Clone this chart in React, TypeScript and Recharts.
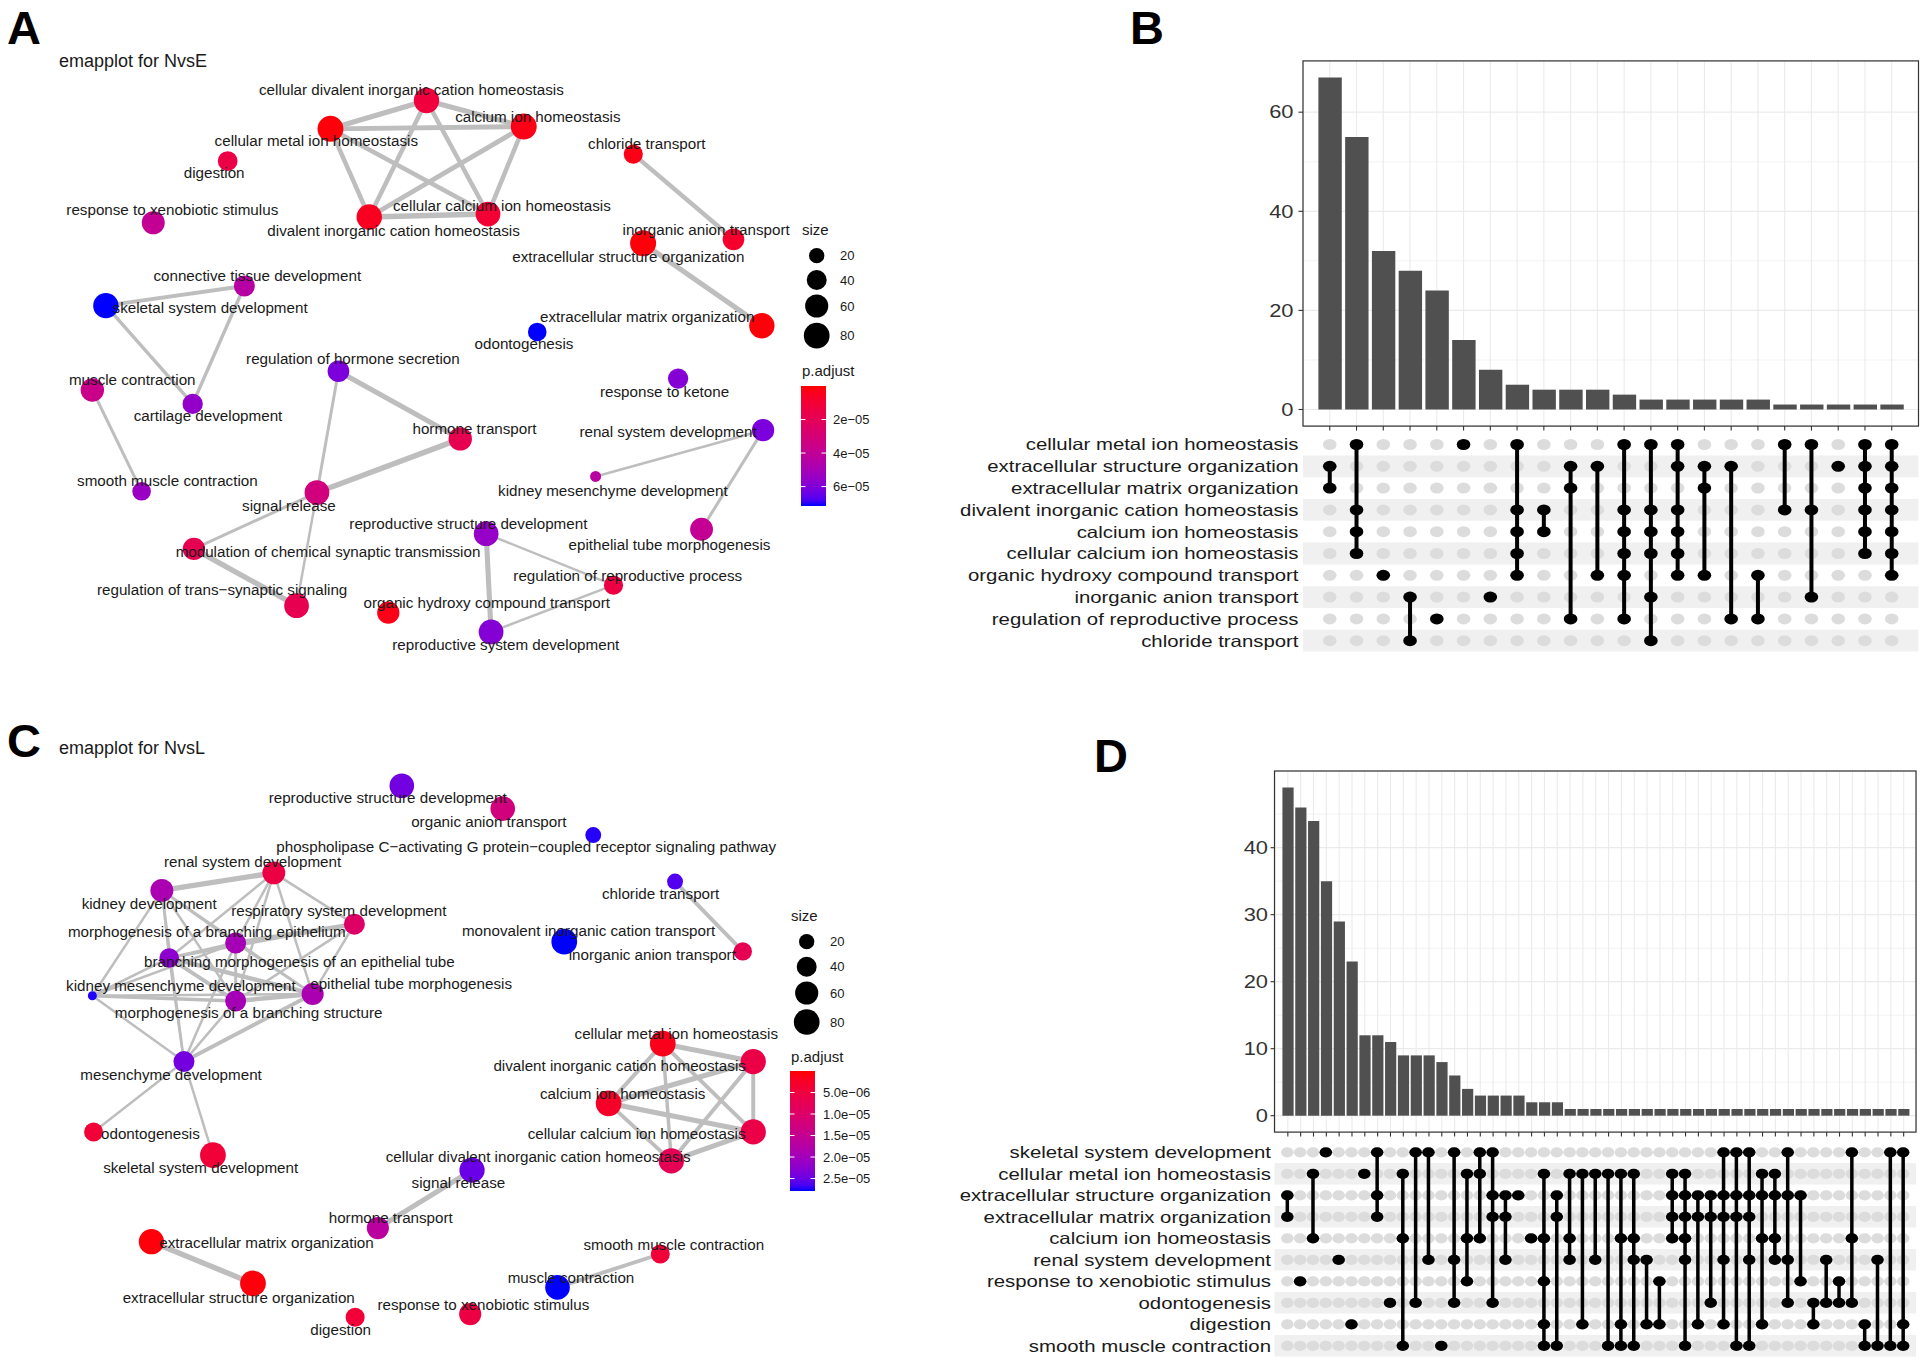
import React from 'react';
import { ScatterChart, Scatter, XAxis, YAxis, BarChart, Bar, CartesianGrid, ReferenceArea } from 'recharts';

const FONT = "'Liberation Sans', Arial, Helvetica, sans-serif";

// ================= Panel A : emapplot for NvsE =================
const aTerms = [
  'cellular divalent inorganic cation homeostasis', 'calcium ion homeostasis', 'cellular metal ion homeostasis',
  'digestion', 'chloride transport', 'response to xenobiotic stimulus', 'cellular calcium ion homeostasis',
  'divalent inorganic cation homeostasis', 'inorganic anion transport', 'extracellular structure organization',
  'connective tissue development', 'skeletal system development', 'extracellular matrix organization',
  'odontogenesis', 'regulation of hormone secretion', 'response to ketone', 'muscle contraction',
  'cartilage development', 'hormone transport', 'renal system development', 'kidney mesenchyme development',
  'smooth muscle contraction', 'signal release', 'reproductive structure development',
  'epithelial tube morphogenesis', 'modulation of chemical synaptic transmission',
  'regulation of reproductive process', 'regulation of trans\u2212synaptic signaling',
  'organic hydroxy compound transport', 'reproductive system development',
];
const aLayout: [number, number][] = [
  [347.3, 81.8], [426.5, 103.1], [269.1, 104.9], [185.4, 131.2], [515.7, 125.5], [124.8, 181.4],
  [397.4, 174.3], [300.7, 176.7], [597.3, 194.9], [523.7, 198.1], [199, 232.9], [86.2, 248.9],
  [620.4, 265.3], [437.5, 270.3], [275.6, 302.3], [552.2, 308.3], [75.2, 317.6], [156.9, 328.9],
  [374.8, 357.4], [621.4, 350.3], [485, 388], [115.3, 400.1], [258.1, 401.1], [395.9, 434.6],
  [571.3, 431], [157.9, 447], [499.6, 476.5], [241.5, 493.2], [316.2, 498.9], [399.9, 514.6],
];
const aGeneCount = [77, 82, 82, 39, 36, 59, 72, 77, 50, 82, 46, 77, 77, 33, 50, 42, 62, 42, 62, 54, 11, 33, 72, 72, 58, 54, 36, 72, 54, 72];
const aPadjust = [
  1.2e-5, 3e-6, 1e-6, 1.5e-5, 3e-6, 3.9e-5, 1e-5, 5e-6, 8e-6, 1e-6, 4.4e-5, 7.16e-5, 1e-6, 7.16e-5, 6.1e-5,
  5.9e-5, 3.6e-5, 5.6e-5, 1.8e-5, 6.1e-5, 4.3e-5, 5.4e-5, 3.2e-5, 5.5e-5, 3.9e-5, 1.8e-5, 1.4e-5, 1.8e-5, 3e-6, 5.9e-5,
];
const aLabelAt: [number, number][] = [
  [335, 72.5], [438, 94.6], [257.6, 114.5], [174.4, 140.8], [526.7, 117], [140.3, 170.7],
  [408.7, 167.1], [320.5, 187.8], [575, 187], [511.7, 209.1], [209.5, 224], [171.1, 250.7],
  [527, 257.5], [426.7, 279.9], [287.4, 292.3], [541.2, 319], [107.7, 309.4], [169.4, 338.2],
  [386.4, 348.9], [544, 351.4], [499.1, 399.4], [136.3, 391.2], [235.3, 411.5], [381.4, 426.4],
  [545.2, 443.8], [267.1, 448.8], [511.2, 468.7], [180.9, 480.1], [396.4, 490.8], [411.9, 524.5],
];
// [from, to, similarity]
const aEdges: [number, number, number][] = [
  [2, 0, 0.85], [2, 1, 0.8], [2, 6, 0.75], [2, 7, 0.75], [0, 1, 0.85], [0, 6, 0.75], [0, 7, 0.75],
  [1, 6, 0.75], [1, 7, 0.8], [6, 7, 0.9], [4, 8, 0.75], [9, 12, 0.85], [11, 10, 0.65], [11, 17, 0.58],
  [10, 17, 0.58], [16, 21, 0.5], [14, 18, 0.85], [14, 22, 0.5], [18, 22, 0.9], [22, 25, 0.5],
  [22, 27, 0.42], [25, 27, 0.9], [19, 20, 0.42], [19, 24, 0.5], [23, 29, 0.85], [23, 26, 0.42], [29, 26, 0.42],
];

// ================= Panel C : emapplot for NvsL =================
const cTerms = [
  'reproductive structure development', 'organic anion transport',
  'phospholipase C\u2212activating G protein\u2212coupled receptor signaling pathway', 'renal system development',
  'kidney development', 'chloride transport', 'respiratory system development',
  'morphogenesis of a branching epithelium', 'monovalent inorganic cation transport', 'inorganic anion transport',
  'branching morphogenesis of an epithelial tube', 'kidney mesenchyme development', 'epithelial tube morphogenesis',
  'morphogenesis of a branching structure', 'cellular metal ion homeostasis', 'mesenchyme development',
  'divalent inorganic cation homeostasis', 'calcium ion homeostasis', 'odontogenesis',
  'cellular calcium ion homeostasis', 'skeletal system development',
  'cellular divalent inorganic cation homeostasis', 'signal release', 'hormone transport',
  'extracellular matrix organization', 'smooth muscle contraction', 'muscle contraction',
  'extracellular structure organization', 'response to xenobiotic stimulus', 'digestion',
];
const cLayout: [number, number][] = [
  [327.2, 639.5], [409.4, 658.1], [483.1, 679.6], [223, 710.4], [131.8, 724.7], [549.7, 717.5],
  [288.6, 752.2], [191.9, 767.6], [459.5, 766.5], [604.9, 774.4], [137.8, 779.7], [75.2, 810.5],
  [254.6, 809.1], [191.9, 814.8], [539.7, 849.5], [149.8, 864.1], [613.4, 864.1], [495.6, 898.1],
  [76.2, 921.4], [613.4, 921.4], [173.4, 940.3], [546.7, 945], [384.4, 952.5], [307.7, 999.7],
  [123.3, 1010.8], [537.7, 1020.8], [454, 1048], [206, 1044.8], [382.9, 1069.8], [289.2, 1072.3],
];
const cGeneCount = [71, 71, 22, 58, 58, 22, 46, 46, 80, 32, 38, 10, 53, 46, 80, 46, 76, 80, 35, 76, 80, 76, 76, 53, 76, 35, 71, 80, 53, 35];
const cPadjust = [
  2.45e-5, 1.25e-5, 2.75e-5, 5.5e-6, 1.9e-5, 2.62e-5, 9.8e-6, 1.95e-5, 2.79e-5, 7.5e-6, 2.23e-5, 2.76e-5,
  1.9e-5, 1.95e-5, 1.4e-6, 2.43e-5, 6e-6, 2.8e-6, 4.2e-6, 6e-6, 4.2e-6, 7.5e-6, 2.5e-5, 1.67e-5,
  5e-7, 4.2e-6, 2.79e-5, 5e-7, 5.5e-6, 4.2e-6,
];
const cLabelAt: [number, number][] = [
  [315.7, 648.8], [398.1, 668.5], [428.5, 688.9], [205.7, 701.4], [121.5, 735], [538, 727.5],
  [275.9, 741.5], [168.4, 758.6], [479.3, 757.6], [531.2, 776.9], [243.8, 782.6], [147.3, 801.9],
  [334.8, 800.5], [202.5, 824.4], [550.7, 840.9], [139.3, 874.5], [504.6, 867], [507.1, 889.9],
  [122.5, 922.4], [518.4, 922.4], [163.4, 950.7], [438.2, 941.8], [373.3, 962.9], [318.2, 990.8],
  [217, 1011.8], [548.7, 1012.9], [465, 1040.1], [194.4, 1056.2], [393.6, 1062.3], [277.4, 1082.3],
];
const cEdges: [number, number, number][] = [
  [3, 4, 0.9], [3, 6, 0.42], [3, 7, 0.42], [3, 10, 0.42], [3, 12, 0.42], [3, 13, 0.42],
  [4, 7, 0.42], [4, 10, 0.42], [4, 11, 0.42], [4, 12, 0.42], [4, 13, 0.42], [4, 15, 0.42],
  [6, 7, 0.75], [6, 10, 0.42], [6, 12, 0.42], [6, 13, 0.42],
  [7, 10, 0.5], [7, 13, 0.5], [7, 12, 0.42], [7, 15, 0.42], [7, 11, 0.42],
  [10, 11, 0.42], [10, 12, 0.75], [10, 13, 0.65], [10, 15, 0.42],
  [11, 13, 0.58], [11, 15, 0.42], [11, 12, 0.42],
  [12, 13, 0.75], [12, 15, 0.65], [13, 15, 0.42], [15, 18, 0.42], [15, 20, 0.42],
  [5, 9, 0.65], [24, 27, 0.9], [22, 23, 0.85], [25, 26, 0.65],
  [14, 16, 0.85], [14, 17, 0.65], [14, 19, 0.65], [14, 21, 0.58], [16, 17, 0.85],
  [16, 19, 0.65], [16, 21, 0.65], [17, 19, 0.85], [17, 21, 0.65], [19, 21, 0.85],
];

// ================= Panel B : upset NvsE =================
const bSets = [
  'cellular metal ion homeostasis', 'extracellular structure organization', 'extracellular matrix organization',
  'divalent inorganic cation homeostasis', 'calcium ion homeostasis', 'cellular calcium ion homeostasis',
  'organic hydroxy compound transport', 'inorganic anion transport', 'regulation of reproductive process',
  'chloride transport',
];
const bIntersectionSize = [67, 55, 32, 28, 24, 14, 8, 5, 4, 4, 4, 3, 2, 2, 2, 2, 2, 1, 1, 1, 1, 1];
const bMembers: number[][] = [
  [1, 2], [0, 3, 4, 5], [6], [7, 9], [8], [0], [7], [0, 3, 4, 5, 6], [3, 4], [1, 2, 8], [1, 6],
  [0, 3, 4, 5, 6, 8], [0, 3, 4, 5, 7, 9], [0, 1, 3, 4, 5, 6], [1, 2, 6], [1, 8], [6, 8], [0, 3], [0, 3, 7],
  [1], [0, 1, 2, 3, 4, 5], [0, 1, 2, 3, 4, 5, 6],
];
const bYTicks = [0, 10, 20, 30, 40, 50, 60];
const bYMajor = [0, 20, 40, 60];

// ================= Panel D : upset NvsL =================
const dSets = [
  'skeletal system development', 'cellular metal ion homeostasis', 'extracellular structure organization',
  'extracellular matrix organization', 'calcium ion homeostasis', 'renal system development',
  'response to xenobiotic stimulus', 'odontogenesis', 'digestion', 'smooth muscle contraction',
];
const dIntersectionSize = [
  49, 46, 44, 35, 29, 23, 12, 12, 11, 9, 9, 9, 8, 6, 4, 3, 3, 3, 3, 2, 2, 2,
  1, 1, 1, 1, 1, 1, 1, 1, 1, 1, 1, 1, 1, 1, 1, 1, 1, 1, 1, 1, 1, 1, 1, 1, 1, 1, 1,
];
const dMembers: number[][] = [
  [2, 3], [6], [1, 4], [0], [5], [8], [1], [0, 2, 3], [7], [1, 4, 9], [0, 7], [0, 5], [9], [0, 5, 7],
  [1, 4, 6], [0, 1, 4], [0, 2, 3, 7], [2, 3, 5], [2], [4], [1, 4, 6, 8, 9], [2, 3, 9], [1, 4, 5], [1, 8],
  [1, 5], [1, 9], [1, 4, 8, 9], [1, 4, 5, 9], [5, 8], [6, 8], [1, 2, 3, 4], [1, 2, 3, 4, 5, 9], [2, 3, 8],
  [2, 3, 7], [0, 2, 3, 5, 8], [0, 2, 3, 9], [0, 2, 3, 5, 9], [1, 2, 4, 8], [1, 2, 4, 5], [0, 2, 5, 7],
  [2, 6], [7, 8], [5, 7], [6, 7], [0, 4, 7], [8, 9], [5, 9], [0, 9], [0, 8, 9],
];
const dYTicks = [0, 5, 10, 15, 20, 25, 30, 35, 40, 45];
const dYMajor = [0, 10, 20, 30, 40];

// ================= Legends =================
const sizeBreaks = [20, 40, 60, 80];
const aPadjBreaks = [2e-5, 4e-5, 6e-5];
const aPadjLabels = ['2e\u221205', '4e\u221205', '6e\u221205'];
const cPadjBreaks = [5e-6, 1e-5, 1.5e-5, 2e-5, 2.5e-5];
const cPadjLabels = ['5.0e\u221206', '1.0e\u221205', '1.5e\u221205', '2.0e\u221205', '2.5e\u221205'];
const aPadjMax = 7.16e-5;
const cPadjMax = 2.79e-5;

// ================= helpers =================
const S = 1.228; // layout unit -> px
const NET_W = 784 * S;
const NET_H = 555 * S;
const EDGE = '#bebebe';
const TEXT = '#1a1a1a';

function srgbToLin(c: number) { c /= 255; return c <= 0.04045 ? c / 12.92 : Math.pow((c + 0.055) / 1.055, 2.4); }
function linToSrgb(c: number) {
  const v = c <= 0.0031308 ? 12.92 * c : 1.055 * Math.pow(Math.max(c, 0), 1 / 2.4) - 0.055;
  return Math.round(Math.max(0, Math.min(1, v)) * 255);
}
function rgbToLab(rgb: number[]) {
  const R = srgbToLin(rgb[0]), G = srgbToLin(rgb[1]), B = srgbToLin(rgb[2]);
  const X = (0.4124564 * R + 0.3575761 * G + 0.1804375 * B) / 0.95047;
  const Y = 0.2126729 * R + 0.7151522 * G + 0.072175 * B;
  const Z = (0.0193339 * R + 0.119192 * G + 0.9503041 * B) / 1.08883;
  const f = (t: number) => (t > 216 / 24389 ? Math.cbrt(t) : ((24389 / 27) * t + 16) / 116);
  const fx = f(X), fy = f(Y), fz = f(Z);
  return [116 * fy - 16, 500 * (fx - fy), 200 * (fy - fz)];
}
function labToRgb(lab: number[]) {
  const fy = (lab[0] + 16) / 116, fx = fy + lab[1] / 500, fz = fy - lab[2] / 200;
  const inv = (t: number) => (t * t * t > 216 / 24389 ? t * t * t : (116 * t - 16) / (24389 / 27));
  const X = inv(fx) * 0.95047, Y = inv(fy), Z = inv(fz) * 1.08883;
  const R = 3.2404542 * X - 1.5371385 * Y - 0.4985314 * Z;
  const G = -0.969266 * X + 1.8760108 * Y + 0.041556 * Z;
  const B = 0.0556434 * X - 0.2040259 * Y + 1.0572252 * Z;
  return [linToSrgb(R), linToSrgb(G), linToSrgb(B)];
}
const LAB_LOW = rgbToLab([255, 0, 0]);
const LAB_HIGH = rgbToLab([0, 0, 255]);
function ramp(t: number) {
  const tt = Math.max(0, Math.min(1, t));
  const lab = LAB_LOW.map((v, i) => v + (LAB_HIGH[i] - v) * tt);
  const c = labToRgb(lab);
  return `rgb(${c[0]},${c[1]},${c[2]})`;
}
const nodeRadius = (count: number) => 4.5 + Math.sqrt(Math.max(count - 10, 0));

const Empty = () => <g />;

function Network(props: any) {
  const { terms, layout, count, padj, labelAt, edges, yDomain, top, pMax } = props;
  const nodes = terms.map((t: string, i: number) => ({ x: layout[i][0], y: layout[i][1], term: t, count: count[i], p: padj[i] }));
  const labels = terms.map((t: string, i: number) => ({ x: labelAt[i][0], y: labelAt[i][1], term: t }));
  const NodeShape = (p: any) => (
    <circle cx={p.cx} cy={p.cy} r={nodeRadius(p.payload.count)} fill={ramp(p.payload.p / pMax)} />
  );
  const LabelShape = (p: any) => (
    <text x={p.cx} y={p.cy} dy="0.36em" textAnchor="middle" fontSize={15.2} fontFamily={FONT} fill={TEXT}>
      {p.payload.term}
    </text>
  );
  return (
    <div style={{ position: 'absolute', left: 0, top, width: NET_W, height: NET_H }}>
      <ScatterChart width={NET_W} height={NET_H} margin={{ top: 0, right: 0, bottom: 0, left: 0 }}>
        <XAxis type="number" dataKey="x" domain={[0, 784]} hide allowDataOverflow />
        <YAxis type="number" dataKey="y" domain={yDomain} reversed hide allowDataOverflow />
        {edges.map((e: number[], k: number) => (
          <Scatter key={'e' + k} data={[nodes[e[0]], nodes[e[1]]]} line={{ stroke: EDGE, strokeWidth: 6 * e[2] }}
            shape={Empty} isAnimationActive={false} />
        ))}
        <Scatter data={nodes} shape={NodeShape} isAnimationActive={false} />
        <Scatter data={labels} shape={LabelShape} isAnimationActive={false} />
      </ScatterChart>
    </div>
  );
}

function UpsetBars(props: any) {
  const { sizes, left, top, plotW, plotH, mTop, domain, ticks, majors, barSize, unit, labelGap } = props;
  const data = sizes.map((v: number, i: number) => ({ id: 'c' + (i + 1), size: v }));
  const yw = 80;
  const width = yw + plotW + 3;
  const height = mTop + plotH + 6 + 4;
  const GridH = (p: any) => (
    <line x1={p.x1} x2={p.x2} y1={p.y1} y2={p.y2} stroke="#ebebeb" strokeWidth={p.index % 2 === 0 ? 1.2 : 0.6} />
  );
  const GridV = (p: any) => <line x1={p.x1} x2={p.x2} y1={p.y1} y2={p.y2} stroke="#ebebeb" strokeWidth={1.1} />;
  const XTick = (p: any) => <line x1={p.x} x2={p.x} y1={p.y} y2={p.y + 4.5} stroke="#333" strokeWidth={1.1} />;
  const YTick = (p: any) => {
    const major = majors.includes(p.payload.value);
    if (!major) return <g />;
    return (
      <g>
        <line x1={p.x - 4.5} x2={p.x} y1={p.y} y2={p.y} stroke="#333" strokeWidth={1.1} />
        <text transform={`translate(${p.x - labelGap},${p.y}) scale(1.25,1)`} dy="0.36em" textAnchor="end"
          fontSize={17.5} fontFamily={FONT} fill="#333">{p.payload.value}</text>
      </g>
    );
  };
  return (
    <div style={{ position: 'absolute', left, top, width, height }}>
      <BarChart width={width} height={height} data={data} margin={{ top: mTop, right: 3, bottom: 4, left: 0 }}>
        <CartesianGrid horizontal={GridH} vertical={GridV} />
        <XAxis dataKey="id" type="category" padding={{ left: unit / 2, right: unit / 2 }} height={6} interval={0}
          axisLine={false} tickLine={false} tickSize={0} tickMargin={0} tick={XTick} />
        <YAxis type="number" domain={domain} ticks={ticks} interval={0} allowDataOverflow width={yw}
          axisLine={false} tickLine={false} tickSize={0} tickMargin={0} tick={YTick} />
        <Bar dataKey="size" fill="#505050" barSize={barSize} isAnimationActive={false} />
      </BarChart>
    </div>
  );
}

function UpsetMatrix(props: any) {
  const { sets, members, left, top, yw, plotW, plotH, mTop, nUnits, rx, ry, lineW, labelGap } = props;
  const width = yw + plotW + 3;
  const height = mTop + plotH + 4;
  const grey: any[] = [];
  members.forEach((_: any, c: number) => sets.forEach((__: any, r: number) => grey.push({ x: c + 1, y: r })));
  const black: any[] = [];
  members.forEach((m: number[], c: number) => m.forEach((r) => black.push({ x: c + 1, y: r })));
  const segs = members
    .map((m: number[], c: number) => (m.length > 1 ? [{ x: c + 1, y: Math.min(...m) }, { x: c + 1, y: Math.max(...m) }] : null))
    .filter(Boolean);
  const Dot = (fill: string) => (p: any) => <ellipse cx={p.cx} cy={p.cy} rx={rx} ry={ry} fill={fill} />;
  const RowTick = (p: any) => (
    <text transform={`translate(${p.x - labelGap},${p.y}) scale(1.25,1)`} dy="0.36em" textAnchor="end"
      fontSize={16.3} fontFamily={FONT} fill={TEXT}>{sets[p.payload.value]}</text>
  );
  return (
    <div style={{ position: 'absolute', left, top, width, height }}>
      <ScatterChart width={width} height={height} margin={{ top: mTop, right: 3, bottom: 4, left: 0 }}>
        <XAxis type="number" dataKey="x" domain={[0, nUnits]} hide allowDataOverflow />
        <YAxis type="number" dataKey="y" domain={[-0.5, sets.length - 0.5]} reversed ticks={sets.map((_: any, i: number) => i)}
          interval={0} allowDataOverflow width={yw} axisLine={false} tickLine={false} tickSize={0} tickMargin={0} tick={RowTick} />
        {sets.map((_: any, r: number) =>
          r % 2 === 1 ? (
            <ReferenceArea key={'s' + r} x1={0} x2={nUnits} y1={r - 0.5} y2={r + 0.5} fill="#f0f0f0" fillOpacity={1}
              stroke="none" ifOverflow="visible" />
          ) : null
        )}
        <Scatter data={grey} shape={Dot('#dcdcdc')} isAnimationActive={false} />
        {segs.map((s: any, k: number) => (
          <Scatter key={'l' + k} data={s} line={{ stroke: '#000', strokeWidth: lineW }} shape={Empty} isAnimationActive={false} />
        ))}
        <Scatter data={black} shape={Dot('#000')} isAnimationActive={false} />
      </ScatterChart>
    </div>
  );
}

function SizeLegend(props: any) {
  const { x, titleY, dotX, dotY, labelX } = props;
  return (
    <g fontFamily={FONT} fill={TEXT}>
      <text x={x} y={titleY} fontSize={15}>size</text>
      {sizeBreaks.map((v, i) => (
        <g key={v}>
          <circle cx={dotX} cy={dotY[i]} r={nodeRadius(v)} fill="#000" />
          <text x={labelX} y={dotY[i]} dy="0.36em" fontSize={13}>{v}</text>
        </g>
      ))}
    </g>
  );
}

function ColorLegend(props: any) {
  const { id, x, titleY, barY, barH, pMax, breaks, labels, labelX } = props;
  const stops = Array.from({ length: 21 }, (_, i) => i / 20);
  return (
    <g fontFamily={FONT} fill={TEXT}>
      <defs>
        <linearGradient id={id} x1="0" y1="0" x2="0" y2="1">
          {stops.map((t) => <stop key={t} offset={t} stopColor={ramp(t)} />)}
        </linearGradient>
      </defs>
      <text x={x + 1} y={titleY} fontSize={15}>p.adjust</text>
      <rect x={x} y={barY} width={25} height={barH} fill={`url(#${id})`} />
      {breaks.map((b: number, i: number) => {
        const y = barY + (b / pMax) * barH;
        return (
          <g key={b}>
            <line x1={x} x2={x + 4.5} y1={y} y2={y} stroke="#fff" strokeWidth={1} />
            <line x1={x + 20.5} x2={x + 25} y1={y} y2={y} stroke="#fff" strokeWidth={1} />
            <text x={labelX} y={y} dy="0.36em" fontSize={13}>{labels[i]}</text>
          </g>
        );
      })}
    </g>
  );
}

export default function App() {
  return (
    <div style={{ position: 'absolute', left: 0, top: 0, width: 1925, height: 1365, background: '#fff', overflow: 'hidden' }}>
      <Network terms={aTerms} layout={aLayout} count={aGeneCount} padj={aPadjust} labelAt={aLabelAt} edges={aEdges}
        yDomain={[0, 555]} top={0} pMax={aPadjMax} />
      <Network terms={cTerms} layout={cLayout} count={cGeneCount} padj={cPadjust} labelAt={cLabelAt} edges={cEdges}
        yDomain={[555, 1110]} top={NET_H} pMax={cPadjMax} />

      <UpsetBars sizes={bIntersectionSize} left={1223} top={50} plotW={615.5} plotH={365.2} mTop={10.9}
        domain={[-3.35, 70.35]} ticks={bYTicks} majors={bYMajor} barSize={23.4} unit={26.76} labelGap={9.5} />
      <UpsetMatrix sets={bSets} members={bMembers} left={950} top={428} yw={353} plotW={615.5} plotH={218} mTop={5.6}
        nUnits={23} rx={6.8} ry={5.5} lineW={4} labelGap={4.5} />

      <UpsetBars sizes={dIntersectionSize} left={1194.5} top={760} plotW={641.5} plotH={361.1} mTop={11}
        domain={[-2.45, 51.45]} ticks={dYTicks} majors={dYMajor} barSize={11.2} unit={12.83} labelGap={7} />
      <UpsetMatrix sets={dSets} members={dMembers} left={950} top={1137} yw={324.5} plotW={641.5} plotH={215} mTop={4.55}
        nUnits={50} rx={6.3} ry={5.1} lineW={3.5} labelGap={3.5} />

      <svg width={1925} height={1365} style={{ position: 'absolute', left: 0, top: 0, pointerEvents: 'none' }}>
        <g fontFamily={FONT} fontWeight="bold" fontSize={47} fill="#000">
          <text x={7} y={43.5}>A</text>
          <text x={1130} y={43.5}>B</text>
          <text x={7} y={757}>C</text>
          <text x={1094} y={772}>D</text>
        </g>
        <g fontFamily={FONT} fontSize={18} fill={TEXT}>
          <text x={59} y={67}>emapplot for NvsE</text>
          <text x={59} y={754}>emapplot for NvsL</text>
        </g>
        <rect x={1303} y={60.9} width={615.5} height={365.2} fill="none" stroke="#333" strokeWidth={1.2} />
        <rect x={1274.5} y={771} width={641.5} height={361.1} fill="none" stroke="#333" strokeWidth={1.2} />
        <SizeLegend x={802} titleY={235} dotX={816.7} dotY={[255.7, 280, 306, 335.7]} labelX={840} />
        <ColorLegend id="gradA" x={801} titleY={375.5} barY={386} barH={120} pMax={aPadjMax} breaks={aPadjBreaks}
          labels={aPadjLabels} labelX={833} />
        <SizeLegend x={791} titleY={921} dotX={806.7} dotY={[941.7, 966.7, 993, 1022]} labelX={830} />
        <ColorLegend id="gradC" x={790} titleY={1062} barY={1071} barH={120} pMax={cPadjMax} breaks={cPadjBreaks}
          labels={cPadjLabels} labelX={823} />
      </svg>
    </div>
  );
}
